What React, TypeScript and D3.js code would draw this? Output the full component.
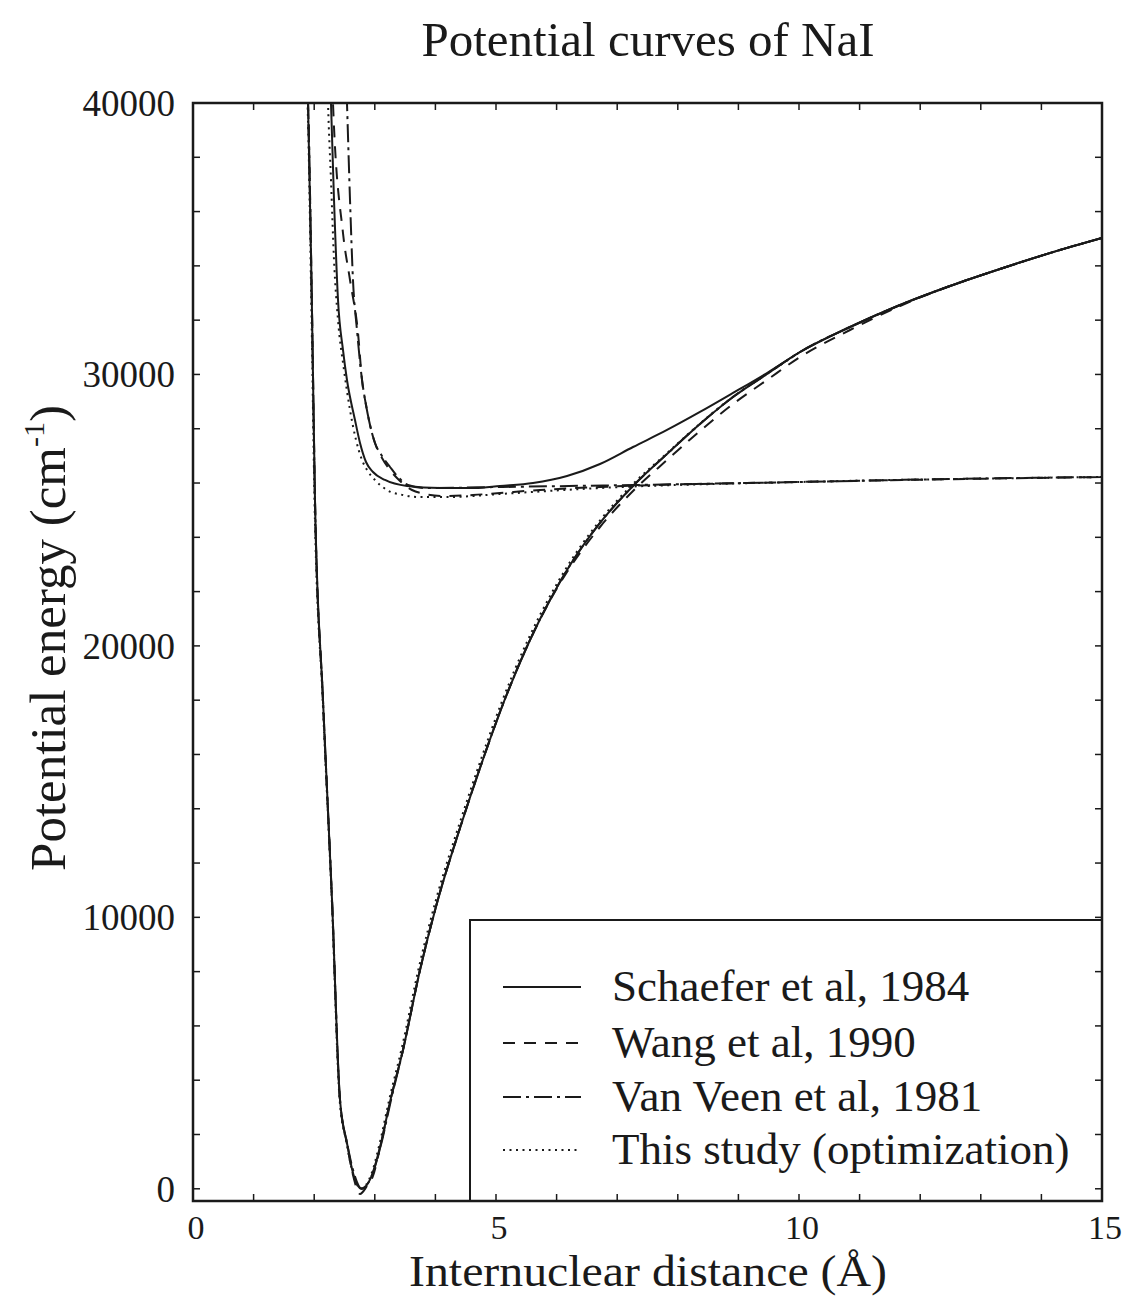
import React from "react";
import * as d3 from "d3";

// ---- data (r in Å, E in cm^-1) ----
const xTickLabels = [0, 5, 10, 15];
const yTickLabels = [0, 10000, 20000, 30000, 40000];

// Schaefer et al, 1984 (solid): ionic (ground) curve
const schaeferIonic: [number, number][] = [
  [1.86, 41500], [1.898, 40000], [1.964, 32264], [2.013, 25375], [2.145, 18007], [2.294, 10639],
  [2.426, 3271], [2.541, 1687], [2.64, 581], [2.723, 103], [2.772, 0], [2.855, 103], [2.954, 508],
  [3.086, 1539], [3.251, 3197], [3.465, 5113], [3.746, 8060], [4.026, 10528], [4.406, 13291],
  [4.736, 15502], [5.116, 17859], [5.561, 20217], [5.908, 21765], [6.172, 22796], [6.716, 24528],
  [7.261, 25891], [7.822, 27069], [8.366, 28175], [8.911, 29169], [9.472, 30017], [10.017, 30827],
  [10.842, 31748], [11.667, 32559], [12.492, 33259], [13.317, 33885], [14.142, 34474], [15, 35027],
];
// Schaefer et al, 1984 (solid): upper (covalent → ionic) curve
const schaeferUpper: [number, number][] = [
  [2.26, 41500], [2.277, 40000], [2.327, 36427], [2.393, 32743], [2.475, 30901], [2.541, 29796],
  [2.673, 28322], [2.756, 27475], [2.855, 26775], [2.97, 26406], [3.168, 26112], [3.531, 25891],
  [4.076, 25817], [4.653, 25817], [5.066, 25891], [5.611, 26001], [6.172, 26259], [6.716, 26701],
  [7.261, 27327], [7.822, 27954], [8.366, 28617], [8.911, 29317], [9.472, 30054], [10.017, 30827],
  [10.842, 31748], [11.667, 32559], [12.492, 33259], [13.317, 33885], [14.142, 34474], [15, 35027],
];
// Wang et al, 1990 (dashed)
const wangIonic: [number, number][] = [
  [1.86, 41500], [1.898, 40000], [1.964, 32264], [2.013, 25375], [2.145, 18007], [2.294, 10639],
  [2.426, 3271], [2.541, 1650], [2.64, 508], [2.756, -192], [2.871, 103], [2.97, 471],
  [3.086, 1500], [3.251, 3197], [3.465, 5113], [3.746, 8060], [4.026, 10528], [4.406, 13291],
  [4.736, 15502], [5.116, 17859], [5.561, 20217], [5.908, 21740], [6.172, 22722], [6.716, 24380],
  [7.261, 25706], [7.822, 26848], [8.366, 27917], [8.911, 28911], [9.472, 29796], [10.017, 30643],
  [10.842, 31638], [11.667, 32522], [12.492, 33259], [13.317, 33885], [14.142, 34474], [15, 35027],
];
const wangCovalent: [number, number][] = [
  [2.29, 41500], [2.31, 40000], [2.475, 35211], [2.591, 33480], [2.723, 31527], [2.789, 29796],
  [2.855, 28875], [2.921, 28138], [3.003, 27475], [3.119, 26922], [3.251, 26480], [3.416, 26075],
  [3.614, 25743], [3.828, 25596], [4.125, 25522], [4.62, 25559], [5.066, 25633], [5.726, 25743],
  [6.716, 25854], [10.017, 26038], [15, 26222],
];
// Van Veen et al, 1981 (dash-dot)
const vanVeenIonic: [number, number][] = [
  [1.86, 41500], [1.898, 40000], [1.964, 32264], [2.013, 25375], [2.145, 18007], [2.294, 10639],
  [2.426, 3271], [2.55, 1600], [2.66, 540], [2.785, 0], [2.88, 180], [2.97, 600],
  [3.1, 1600], [3.26, 3197], [3.465, 5113], [3.746, 8060], [4.026, 10528], [4.406, 13291],
  [4.736, 15502], [5.116, 17859], [5.561, 20217], [5.908, 21765], [6.172, 22796], [6.716, 24528],
  [7.261, 25891], [7.822, 27069], [8.366, 28175], [8.911, 29169], [9.472, 30017], [10.017, 30827],
  [10.842, 31748], [11.667, 32559], [12.492, 33259], [13.317, 33885], [14.142, 34474], [15, 35027],
];
const vanVeenCovalent: [number, number][] = [
  [2.52, 41500], [2.541, 40000], [2.591, 36427], [2.64, 33480], [2.706, 31638], [2.789, 29796],
  [2.855, 28875], [2.921, 28138], [3.003, 27475], [3.119, 26996], [3.251, 26591], [3.383, 26222],
  [3.548, 25927], [3.828, 25817], [5.066, 25854], [7.261, 25927], [10.017, 26038], [12.492, 26148],
  [15, 26222],
];
// This study (optimization) (dotted)
const studyIonic: [number, number][] = [
  [1.85, 41500], [1.89, 40000], [1.955, 32264], [2.005, 25375], [2.14, 18007], [2.29, 10639],
  [2.42, 3271], [2.535, 1687], [2.635, 581], [2.72, 103], [2.765, 0], [2.85, 130], [2.945, 560],
  [3.075, 1620], [3.24, 3300], [3.45, 5230], [3.73, 8180], [4.01, 10650], [4.39, 13400],
  [4.72, 15610], [5.1, 17960], [5.545, 20310], [5.895, 21850], [6.16, 22870], [6.705, 24590],
  [7.25, 25940], [7.822, 27100], [8.366, 28190], [8.911, 29175], [9.472, 30020], [10.017, 30827],
];
const studyCovalent: [number, number][] = [
  [2.21, 41500], [2.228, 40000], [2.277, 37164], [2.327, 34216], [2.393, 32006], [2.492, 30164],
  [2.591, 28690], [2.69, 27585], [2.789, 26848], [2.871, 26480], [3.003, 26112], [3.201, 25743],
  [3.465, 25559], [3.746, 25485], [4.241, 25485], [5.066, 25596], [6.716, 25817], [10.017, 26038],
  [15, 26222],
];

const legendLabels = [
  "Schaefer et al, 1984",
  "Wang et al, 1990",
  "Van Veen et al, 1981",
  "This study (optimization)",
];

// ---- styling ----
const W = 1123;
const H = 1296;
const L = 193, R = 1102, T = 103, B = 1201;
const INK = "#1a1a1a";
const FONT = "'Liberation Serif', 'Times New Roman', Times, serif";
const DASH = {
  solid: undefined as string | undefined,
  dashed: "12,9",
  dashdot: "18,5,3,5",
  dotted: "2,4.5",
};

export default function App() {
  const x = d3.scaleLinear().domain([0, 15]).range([L, R]);
  const y = d3.scaleLinear().domain([-450, 40000]).range([B, T]);
  const line = d3
    .line<[number, number]>()
    .x((d) => x(d[0]))
    .y((d) => y(d[1]))
    .curve(d3.curveMonotoneX);

  const series: { data: [number, number][]; dash?: string }[] = [
    { data: schaeferIonic, dash: DASH.solid },
    { data: schaeferUpper, dash: DASH.solid },
    { data: wangIonic, dash: DASH.dashed },
    { data: wangCovalent, dash: DASH.dashed },
    { data: vanVeenIonic, dash: DASH.dashdot },
    { data: vanVeenCovalent, dash: DASH.dashdot },
    { data: studyIonic, dash: DASH.dotted },
    { data: studyCovalent, dash: DASH.dotted },
  ];
  const legendDash = [DASH.solid, DASH.dashed, DASH.dashdot, DASH.dotted];

  const xMinor = d3.range(0, 16, 1);
  const yMinor = d3.range(0, 40001, 2000);
  const tickLen = 7;

  const legX = 470, legT = 920;
  const rowY = [987, 1043, 1097, 1150];

  return (
    <svg
      width={W}
      height={H}
      style={{ position: "absolute", left: 0, top: 0, background: "#fff" }}
      fontFamily={FONT}
    >
      <rect x={0} y={0} width={W} height={H} fill="#fff" />
      <defs>
        <clipPath id="plotclip">
          <rect x={L} y={T} width={R - L} height={B - T} />
        </clipPath>
      </defs>

      {/* title */}
      <text x={648} y={56} textAnchor="middle" fontSize={49} fill={INK}>
        Potential curves of NaI
      </text>

      {/* curves */}
      <g clipPath="url(#plotclip)">
        {series.map((s, i) => (
          <path
            key={i}
            d={line(s.data) || ""}
            fill="none"
            stroke={INK}
            strokeWidth={2}
            strokeDasharray={s.dash}
          />
        ))}
      </g>

      {/* legend box */}
      <rect x={legX} y={legT} width={R - legX} height={B - legT} fill="none" stroke={INK} strokeWidth={2} />
      {legendLabels.map((lab, i) => (
        <g key={lab}>
          <line
            x1={503}
            x2={581}
            y1={rowY[i]}
            y2={rowY[i]}
            stroke={INK}
            strokeWidth={2}
            strokeDasharray={legendDash[i]}
          />
          <text x={612} y={rowY[i] + 14} fontSize={45} fill={INK}>
            {lab}
          </text>
        </g>
      ))}

      {/* ticks */}
      {xMinor.map((v) => (
        <g key={"xt" + v}>
          <line x1={x(v)} x2={x(v)} y1={B} y2={B - tickLen} stroke={INK} strokeWidth={1.5} />
          <line x1={x(v)} x2={x(v)} y1={T} y2={T + tickLen} stroke={INK} strokeWidth={1.5} />
        </g>
      ))}
      {yMinor.map((v) => (
        <g key={"yt" + v}>
          <line x1={L} x2={L + tickLen} y1={y(v)} y2={y(v)} stroke={INK} strokeWidth={1.5} />
          <line x1={R} x2={R - tickLen} y1={y(v)} y2={y(v)} stroke={INK} strokeWidth={1.5} />
        </g>
      ))}

      {/* frame */}
      <rect x={L} y={T} width={R - L} height={B - T} fill="none" stroke={INK} strokeWidth={2.5} />

      {/* tick labels */}
      {xTickLabels.map((v) => (
        <text key={"xl" + v} x={x(v) + 3} y={1238.5} textAnchor="middle" fontSize={34} fill={INK}>
          {v}
        </text>
      ))}
      {yTickLabels.map((v) => (
        <text key={"yl" + v} x={175} y={y(v) + 13} textAnchor="end" fontSize={37} fill={INK}>
          {v}
        </text>
      ))}

      {/* axis titles */}
      <text
        x={648}
        y={1286}
        textAnchor="middle"
        fontSize={45}
        textLength={478}
        lengthAdjust="spacingAndGlyphs"
        fill={INK}
      >
        Internuclear distance (Å)
      </text>
      <text transform="translate(65,638) rotate(-90)" textAnchor="middle" fontSize={51} fill={INK}>
        Potential energy (cm
        <tspan dy={-21} fontSize={30}>-1</tspan>
        <tspan dy={21}>)</tspan>
      </text>
    </svg>
  );
}
